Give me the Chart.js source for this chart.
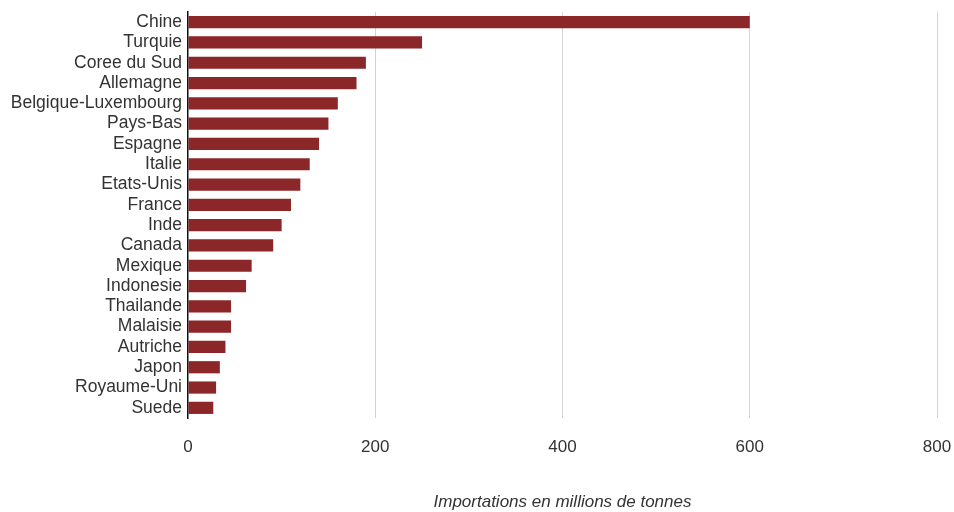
<!DOCTYPE html>
<html>
<head>
<meta charset="utf-8">
<script src="https://cdn.jsdelivr.net/npm/chart.js@4/dist/chart.umd.min.js"></script>
<style>
  body { margin: 0; background: #fff; }
</style>
</head>
<body>
<canvas id="importations" width="954" height="512"></canvas>
<script>
// pays importateurs, du plus grand au plus petit
const pays = ['Chine', 'Turquie', 'Coree du Sud', 'Allemagne', 'Belgique-Luxembourg',
  'Pays-Bas', 'Espagne', 'Italie', 'Etats-Unis', 'France', 'Inde', 'Canada',
  'Mexique', 'Indonesie', 'Thailande', 'Malaisie', 'Autriche', 'Japon',
  'Royaume-Uni', 'Suede'];
const importations = [600, 250, 190, 180, 160, 150, 140, 130, 120, 110, 100, 91,
  68, 62, 46, 46, 40, 34, 30, 27];
const ticksX = [0, 200, 400, 600, 800];
const titreX = 'Importations en millions de tonnes';

const texte = '#333333';

const config = {
  type: 'bar',
  data: {
    labels: pays,
    datasets: [{
      data: importations,
      backgroundColor: '#8b2629',
      borderWidth: 0,
      barPercentage: 0.6,
      categoryPercentage: 1.0
    }]
  },
  options: {
    indexAxis: 'y',
    responsive: false,
    animation: false,
    layout: { padding: 0 },
    plugins: {
      legend: { display: false },
      tooltip: { enabled: false }
    },
    scales: {
      x: {
        min: ticksX[0],
        max: ticksX[ticksX.length - 1],
        afterBuildTicks: scale => { scale.ticks = ticksX.map(v => ({ value: v })); },
        afterFit: scale => {
          scale.height = 94;
          scale.paddingLeft = 0;
          scale.paddingRight = 17;
        },
        grid: {
          color: c => c.tick && c.tick.value === 0 ? 'rgba(0,0,0,0)' : '#d2d2d2',
          lineWidth: 1,
          drawTicks: false
        },
        border: { display: false },
        ticks: {
          padding: 19,
          color: texte,
          font: { family: 'Liberation Sans', size: 17 }
        },
        title: {
          display: true,
          text: titreX,
          color: texte,
          padding: { top: 36, bottom: 0 },
          font: { family: 'Liberation Sans', size: 17, style: 'italic' }
        }
      },
      y: {
        afterFit: scale => {
          scale.width = 188;
          scale.paddingTop = 12;
          scale.paddingBottom = 0;
        },
        grid: { display: false, drawTicks: false },
        border: { display: true, color: '#111111', width: 1.5 },
        ticks: {
          autoSkip: false,
          padding: 6,
          color: texte,
          font: { family: 'Liberation Sans', size: 17.5 }
        }
      }
    }
  }
};

new Chart(document.getElementById('importations'), config);
</script>
</body>
</html>
